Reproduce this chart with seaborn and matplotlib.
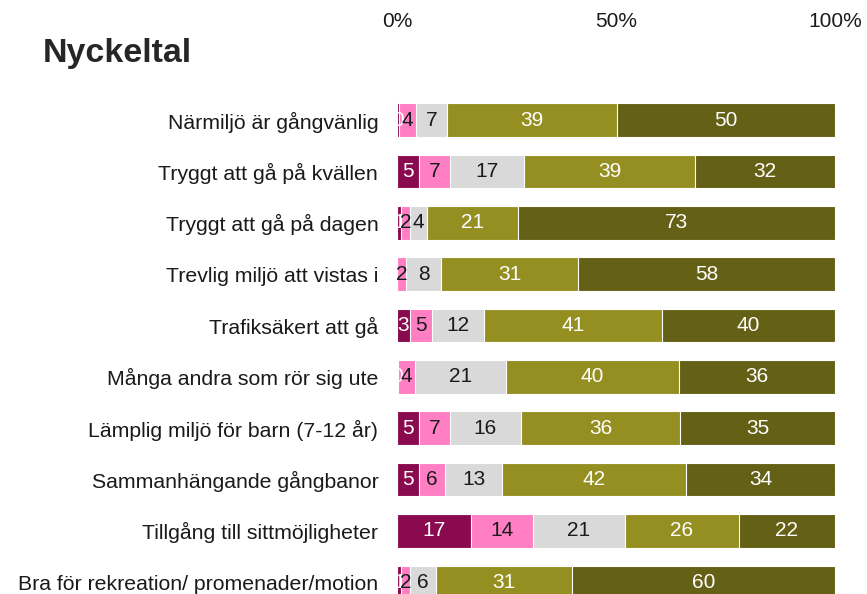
import numpy as np
import pandas as pd
import matplotlib
matplotlib.use("Agg")
import matplotlib.pyplot as plt
import seaborn as sns

# categories (top to bottom)
items = [
    "Närmiljö är gångvänlig",
    "Tryggt att gå på kvällen",
    "Tryggt att gå på dagen",
    "Trevlig miljö att vistas i",
    "Trafiksäkert att gå",
    "Många andra som rör sig ute",
    "Lämplig miljö för barn (7-12 år)",
    "Sammanhängande gångbanor",
    "Tillgång till sittmöjligheter",
    "Bra för rekreation/ promenader/motion",
]

# answer shares per level, in percent (level 1 = worst ... level 5 = best)
level1 = [0.4, 5, 1, 0, 3, 0.2, 5, 5, 17, 1]
level2 = [4, 7, 2, 2, 5, 4, 7, 6, 14, 2]
level3 = [7, 17, 4, 8, 12, 21, 16, 13, 21, 6]
level4 = [39, 39, 21, 31, 41, 40, 36, 42, 26, 31]
level5 = [50, 32, 73, 58, 40, 36, 35, 34, 22, 60]

levels = [level1, level2, level3, level4, level5]
colors = ["#8A0A4F", "#FF7EC4", "#D9D9D9", "#958F22", "#646015"]
text_colors = ["white", "#1a1a1a", "#1a1a1a", "white", "white"]

df = pd.DataFrame({"item": items})
for i, lv in enumerate(levels):
    df[f"l{i+1}"] = lv
df["total"] = df[[f"l{i+1}" for i in range(5)]].sum(axis=1)
# scale so each row ends at 100 %
for i in range(5):
    df[f"p{i+1}"] = df[f"l{i+1}"] / df["total"] * 100
cum = df[[f"p{i+1}" for i in range(5)]].cumsum(axis=1)

sns.set_theme(style="white")
plt.rcParams["font.family"] = ["Liberation Sans", "DejaVu Sans"]

fig = plt.figure(figsize=(8.67, 5.94), dpi=100)
ax = fig.add_axes([397 / 867, 0, 438 / 867, 1 - 38 / 594])

# stacked bars: draw cumulative totals from the longest down
for i in reversed(range(5)):
    sns.barplot(x=cum[f"p{i+1}"], y=df["item"], orient="h", color=colors[i],
                width=0.65, edgecolor="white", linewidth=0.8, saturation=1, ax=ax)

# segment labels
for i in range(5):
    starts = cum[f"p{i+1}"] - df[f"p{i+1}"]
    for row in range(len(items)):
        val = levels[i][row]
        if i == 0 and val == 0:
            continue
        ax.text(starts[row] + df[f"p{i+1}"][row] / 2, row, f"{round(val)}",
                ha="center", va="center", fontsize=15, color=text_colors[i])

ax.set_xlim(0, 100)
ax.set_ylim(9.23, -1.60)
ax.set_xticks([0, 50, 100])
ax.set_xticklabels(["0%", "50%", "100%"])
ax.xaxis.tick_top()
ax.tick_params(axis="x", length=0, labelsize=15, pad=5, labelcolor="#1a1a1a")
ax.tick_params(axis="y", length=0, labelsize=15.3, pad=13.5, labelcolor="#1a1a1a")
ax.set_xlabel("")
ax.set_ylabel("")
for s in ax.spines.values():
    s.set_visible(False)

fig.text(43 / 867, 1 - 62 / 594, "Nyckeltal", fontsize=24.5, fontweight="bold",
         color="#262626", va="baseline", ha="left")

fig.savefig("out.png", dpi=100)
